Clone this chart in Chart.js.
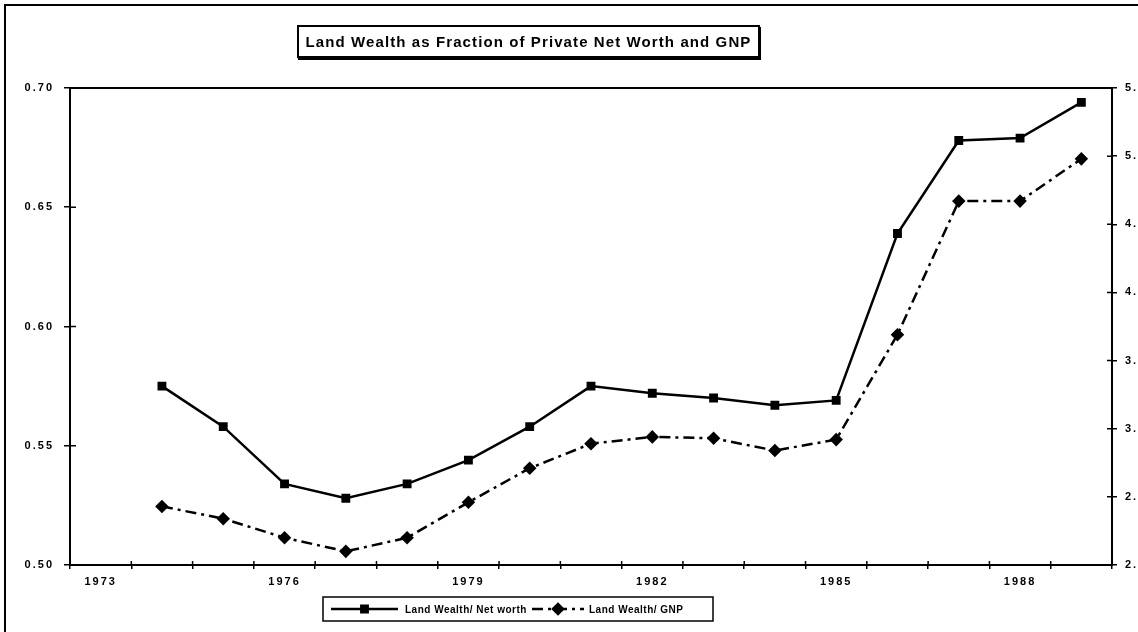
<!DOCTYPE html>
<html>
<head>
<meta charset="utf-8">
<script src="https://cdn.jsdelivr.net/npm/chart.js@4.4.1/dist/chart.umd.min.js"></script>
<style>
    html, body { margin: 0; padding: 0; background: #fff; overflow: hidden; }
    #wrap { position: relative; width: 1138px; height: 632px; overflow: hidden; }
    #chart { position: absolute; left: 0; top: 0; }
    #title {
        position: absolute; left: 297px; top: 25px; width: 459px; height: 29px;
        border: 2px solid #000; box-shadow: 1px 2px 0 #000; background: #fff;
        font: bold 15px "Liberation Sans", Arial, sans-serif; letter-spacing: 1.1px;
        line-height: 29px; text-align: center; color: #000; white-space: nowrap;
    }
</style>
</head>
<body>
<div id="wrap">
    <canvas id="chart" width="1160" height="632"></canvas>
    <div id="title">Land Wealth as Fraction of Private Net Worth and GNP</div>
</div>
<script>
(function () {
    'use strict';

    // data (1973 has no point)
    const years = ['1973', '1974', '1975', '1976', '1977', '1978', '1979', '1980', '1981',
        '1982', '1983', '1984', '1985', '1986', '1987', '1988', '1989'];
    const shownYears = ['1973', '1976', '1979', '1982', '1985', '1988'];
    const netWorthShare = [null, 0.575, 0.558, 0.534, 0.528, 0.534, 0.544, 0.558, 0.575,
        0.572, 0.570, 0.567, 0.569, 0.639, 0.678, 0.679, 0.694];
    const gnpRatio = [null, 2.43, 2.34, 2.20, 2.10, 2.20, 2.46, 2.71, 2.89,
        2.94, 2.93, 2.84, 2.92, 3.69, 4.67, 4.67, 4.98];
    const leftTicks = [0.50, 0.55, 0.60, 0.65, 0.70];
    const rightTicks = [2.0, 2.5, 3.0, 3.5, 4.0, 4.5, 5.0, 5.5];
    const legendNames = ['Land Wealth/ Net worth', 'Land Wealth/ GNP'];

    const FONT = '"Liberation Sans", Arial, sans-serif';
    const tickFont = { family: FONT, size: 11, weight: 'bold' };

    // page frame, plot box, ticks that cross the axes, letter spacing
    const decor = {
        id: 'decor',
        beforeDraw: function (chart) {
            chart.ctx.letterSpacing = '2px';
        },
        afterDraw: function (chart) {
            const ctx = chart.ctx;
            const a = chart.chartArea;
            ctx.save();
            ctx.strokeStyle = '#000';
            ctx.lineWidth = 2;
            ctx.strokeRect(5, 5, chart.width, chart.height);
            ctx.strokeRect(a.left, a.top, a.right - a.left, a.bottom - a.top);

            ctx.lineWidth = 1.5;
            ctx.beginPath();
            chart.scales.y.ticks.forEach(function (t, i) {
                const py = chart.scales.y.getPixelForTick(i);
                ctx.moveTo(a.left, py);
                ctx.lineTo(a.left + 6, py);
            });
            chart.scales.y1.ticks.forEach(function (t, i) {
                const py = chart.scales.y1.getPixelForTick(i);
                ctx.moveTo(a.right, py);
                ctx.lineTo(a.right - 5, py);
            });
            const xs = chart.scales.x;
            const n = years.length;
            for (let i = 0; i <= n; i++) {
                const px = xs.left + i * (xs.right - xs.left) / n;
                ctx.moveTo(px, a.bottom);
                ctx.lineTo(px, a.bottom - 4);
            }
            ctx.stroke();
            ctx.restore();
        }
    };

    // boxed legend under the axis
    const boxLegend = {
        id: 'boxLegend',
        afterDraw: function (chart) {
            const ctx = chart.ctx;
            const top = 597, left = 323, w = 390, h = 24;
            const cy = top + h / 2;
            const items = [{ x0: 331, x1: 398, text: 405 }, { x0: 532, x1: 584, text: 589 }];
            ctx.save();
            ctx.strokeStyle = '#000';
            ctx.lineWidth = 1.5;
            ctx.strokeRect(left, top, w, h);
            chart.data.datasets.forEach(function (ds, i) {
                const it = items[i];
                ctx.lineWidth = 2.5;
                ctx.setLineDash(ds.borderDash || []);
                ctx.beginPath();
                ctx.moveTo(it.x0, cy);
                ctx.lineTo(it.x1, cy);
                ctx.stroke();
                ctx.setLineDash([]);
                Chart.helpers.drawPoint(ctx, {
                    pointStyle: ds.pointStyle, radius: ds.pointRadius, borderWidth: 1
                }, (it.x0 + it.x1) / 2, cy);
                ctx.fillStyle = '#000';
                ctx.fill();
                ctx.font = 'bold 10px ' + FONT;
                ctx.letterSpacing = '0.5px';
                ctx.textBaseline = 'middle';
                ctx.textAlign = 'left';
                ctx.fillText(legendNames[i], it.text, cy + 1);
            });
            ctx.restore();
        }
    };

    new Chart(document.getElementById('chart'), {
        type: 'line',
        data: {
            labels: years,
            datasets: [{
                label: legendNames[0],
                data: netWorthShare,
                yAxisID: 'y',
                borderColor: '#000',
                borderWidth: 2.5,
                pointStyle: 'rect',
                pointRadius: 4.5,
                pointBackgroundColor: '#000',
                pointBorderColor: '#000',
                tension: 0
            }, {
                label: legendNames[1],
                data: gnpRatio,
                yAxisID: 'y1',
                borderColor: '#000',
                borderWidth: 2.5,
                borderDash: [11, 5, 3, 5],
                pointStyle: 'rectRot',
                pointRadius: 5,
                pointBackgroundColor: '#000',
                pointBorderColor: '#000',
                tension: 0
            }]
        },
        options: {
            responsive: false,
            animation: false,
            layout: { padding: { left: 5, right: 8, top: 88, bottom: 37 } },
            plugins: {
                legend: { display: false },
                title: { display: false },
                tooltip: { enabled: false }
            },
            scales: {
                x: {
                    type: 'category',
                    offset: true,
                    grid: { offset: true, drawOnChartArea: false, tickLength: 4, color: '#000', lineWidth: 1.5 },
                    border: { color: '#000', width: 2 },
                    ticks: {
                        autoSkip: false,
                        maxRotation: 0,
                        padding: 6,
                        color: '#000',
                        font: tickFont,
                        callback: function (v, i) {
                            return shownYears.indexOf(years[i]) >= 0 ? years[i] : '';
                        }
                    },
                    afterFit: function (s) { s.height = 30; }
                },
                y: {
                    position: 'left',
                    min: leftTicks[0],
                    max: leftTicks[leftTicks.length - 1],
                    afterBuildTicks: function (s) {
                        s.ticks = leftTicks.map(function (v) { return { value: v }; });
                    },
                    grid: { drawOnChartArea: false, tickLength: 6, color: '#000', lineWidth: 1.5 },
                    border: { color: '#000', width: 2 },
                    ticks: {
                        padding: 10,
                        color: '#000',
                        font: tickFont,
                        callback: function (v) { return Number(v).toFixed(2); }
                    },
                    afterFit: function (s) { s.width = 65; }
                },
                y1: {
                    position: 'right',
                    min: rightTicks[0],
                    max: rightTicks[rightTicks.length - 1],
                    afterBuildTicks: function (s) {
                        s.ticks = rightTicks.map(function (v) { return { value: v }; });
                    },
                    grid: { drawOnChartArea: false, tickLength: 5, color: '#000', lineWidth: 1.5 },
                    border: { color: '#000', width: 2 },
                    ticks: {
                        padding: 8,
                        color: '#000',
                        font: tickFont,
                        callback: function (v) { return Number(v).toFixed(2); }
                    },
                    afterFit: function (s) { s.width = 40; }
                }
            }
        },
        plugins: [decor, boxLegend]
    });
})();
</script>
</body>
</html>
